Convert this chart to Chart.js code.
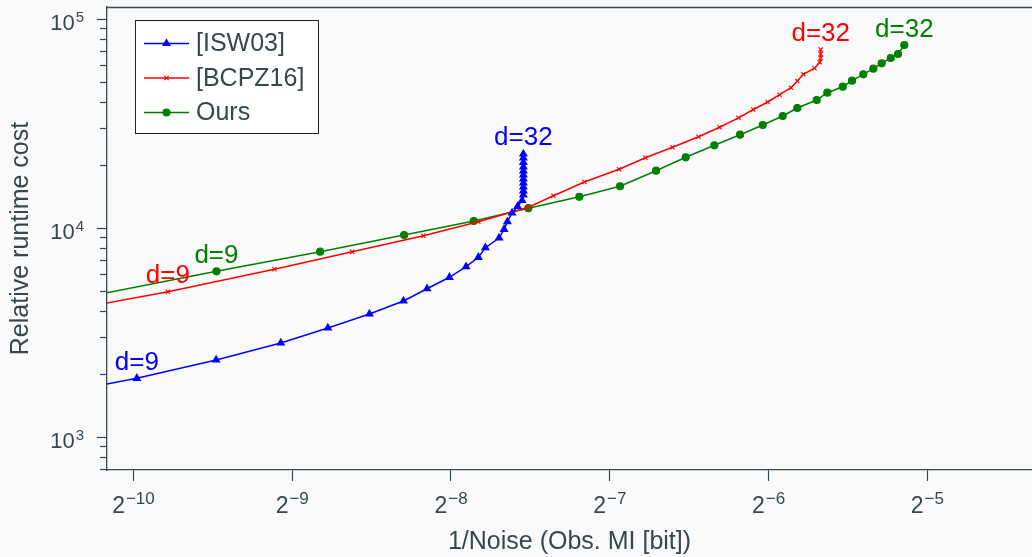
<!DOCTYPE html>
<html>
<head>
<meta charset="utf-8">
<script src="https://cdn.jsdelivr.net/npm/chart.js@4.4.0/dist/chart.umd.min.js"></script>
<style>
  html, body { margin: 0; padding: 0; background: #fafafa; overflow: hidden; }
  canvas { display: block; }
</style>
</head>
<body>
<canvas id="chart" width="1032" height="557"></canvas>
<script>
// values; first point of each series lies left of the visible range
const isw03X = [0.000711, 0.000991, 0.001401, 0.001858, 0.002282, 0.002736, 0.003174, 0.003519, 0.003879, 0.004172,
  0.004402, 0.004539, 0.004819, 0.004925, 0.004997, 0.005100, 0.005224, 0.005328, 0.005358, 0.005358,
  0.005358, 0.005358, 0.005358, 0.005358, 0.005358, 0.005358, 0.005358, 0.005358, 0.005358]
const isw03Y = [1633, 1916, 2344, 2827, 3334, 3890, 4489, 5140, 5830, 6551,
  7265, 8078, 8986, 9890, 10755, 11836, 12715, 13583, 14430, 15082,
  15761, 16471, 17213, 17989, 18800, 19647, 20645, 21697, 22675]

const bcpz16X = [0.000711, 0.001135, 0.001807, 0.002537, 0.003463, 0.004402, 0.005476, 0.006108, 0.006993, 0.008136,
  0.009127, 0.010276, 0.011511, 0.012617, 0.013707, 0.014617, 0.015571, 0.016394, 0.017236, 0.017717,
  0.018189, 0.019099, 0.019536, 0.019622, 0.019622, 0.019622]
const bcpz16Y = [3999, 4975, 6365, 7727, 9217, 10755, 12604, 14322, 16651, 19156,
  21748, 24413, 27404, 30453, 33784, 37018, 40215, 43580, 47064, 50688,
  54550, 58345, 62279, 65283, 68230, 71680]

const oursX = [0.000711, 0.001403, 0.002206, 0.003183, 0.004315, 0.005476, 0.006841, 0.008172, 0.009562, 0.010886,
  0.012334, 0.013798, 0.015235, 0.016623, 0.017717, 0.019283, 0.020196, 0.021603, 0.022497, 0.023633,
  0.024689, 0.025610, 0.026636, 0.027500, 0.028266]
const oursY = [4455, 6228, 7727, 9288, 10837, 12479, 14148, 15897, 18863, 21868,
  24953, 28042, 31207, 34458, 37638, 41113, 44548, 47587, 50851, 54550,
  58023, 61595, 65283, 68230, 75336]

const seriesNames = ["[ISW03]", "[BCPZ16]", "Ours"]
const seriesColors = ["#0000ff", "#ff0000", "#008000"]
const firstLabel = "d=9"
const lastLabel = "d=32"
const firstLabelIndex = 1

const xTickExps = [-10, -9, -8, -7, -6, -5]   // powers of 2
const yTickExps = [3, 4, 5]                   // powers of 10
const xMin = 0.00087, xMax = 0.04936
const yMin = 697.5, yMax = 114520

const ink = "#37474f"
const fam = "Liberation Sans"

const toPoints = (xs, ys) => xs.map((x, i) => ({x: x, y: ys[i]}))

const yMinorTicks = []
for (let e = 2; e <= 5; e++) {
  for (let m = 2; m <= 9; m++) {
    const v = m * Math.pow(10, e)
    if (v >= yMin && v <= yMax) yMinorTicks.push(v)
  }
}

function drawPow(ctx, base, exp, x, y, align, baseSize, expSize) {
  ctx.font = `${baseSize}px "${fam}"`
  const wb = ctx.measureText(base).width
  ctx.font = `${expSize}px "${fam}"`
  const we = ctx.measureText(exp).width
  const total = wb + 1 + we
  const x0 = align === "center" ? x - total / 2 : x - total
  ctx.textAlign = "left"
  ctx.textBaseline = "alphabetic"
  ctx.fillStyle = ink
  ctx.font = `${baseSize}px "${fam}"`
  ctx.fillText(base, x0, y)
  ctx.font = `${expSize}px "${fam}"`
  ctx.fillText(exp, x0 + wb + 1, y - 8.5)
}

const decorations = {
  id: "decorations",
  afterDraw(chart) {
    const ctx = chart.ctx
    const area = chart.chartArea
    ctx.save()

    // top frame line
    ctx.strokeStyle = ink
    ctx.lineWidth = 1.3
    ctx.beginPath()
    ctx.moveTo(area.left, area.top + 0.5)
    ctx.lineTo(area.right, area.top + 0.5)
    ctx.stroke()

    // tick labels with exponents
    const xs = chart.scales.x
    xs.ticks.forEach((t) => {
      const e = Math.round(Math.log2(t.value))
      drawPow(ctx, "2", "\u2212" + Math.abs(e), xs.getPixelForValue(t.value), xs.top + 42.5, "center", 23, 17)
    })
    const ys = chart.scales.y
    ys.ticks.forEach((t) => {
      const e = Math.round(Math.log10(t.value))
      drawPow(ctx, "10", String(e), 84, ys.getPixelForValue(t.value) + 11, "right", 22, 15)
    })

    // d=.. annotations at first and last point of each series
    ctx.font = `26px "${fam}"`
    ctx.textAlign = "center"
    ctx.textBaseline = "alphabetic"
    chart.data.datasets.forEach((ds, i) => {
      const pts = chart.getDatasetMeta(i).data
      ctx.fillStyle = ds.borderColor
      const p0 = pts[firstLabelIndex]
      const p1 = pts[pts.length - 1]
      ctx.fillText(firstLabel, p0.x, p0.y - 8.5)
      ctx.fillText(lastLabel, p1.x, p1.y - 8.5)
    })

    // legend box
    const lx = 135.5, ly = 20.5, lw = 183, lh = 113
    ctx.fillStyle = "#ffffff"
    ctx.fillRect(lx, ly, lw, lh)
    ctx.strokeStyle = "#222"
    ctx.lineWidth = 1
    ctx.strokeRect(lx, ly, lw, lh)
    chart.data.datasets.forEach((ds, i) => {
      const rowY = 43.5 + i * 34.5
      ctx.strokeStyle = ds.borderColor
      ctx.lineWidth = ds.borderWidth
      ctx.beginPath()
      ctx.moveTo(144, rowY)
      ctx.lineTo(189, rowY)
      ctx.stroke()
      ctx.fillStyle = ds.borderColor
      ctx.lineWidth = ds.pointBorderWidth
      Chart.helpers.drawPoint(ctx, {pointStyle: ds.pointStyle, rotation: 0, radius: ds.pointRadius, borderWidth: ds.pointBorderWidth}, 166.5, rowY)
      ctx.fillStyle = ink
      ctx.font = `25px "${fam}"`
      ctx.textAlign = "left"
      ctx.textBaseline = "middle"
      ctx.fillText(ds.label, 196, rowY + 1)
    })
    ctx.restore()
  }
}

const styles = [
  {pointStyle: "triangle", pointRadius: 4},
  {pointStyle: "crossRot", pointRadius: 3},
  {pointStyle: "circle", pointRadius: 3.5}
]
const allData = [toPoints(isw03X, isw03Y), toPoints(bcpz16X, bcpz16Y), toPoints(oursX, oursY)]

const datasets = allData.map((d, i) => ({
  label: seriesNames[i],
  data: d,
  borderColor: seriesColors[i],
  backgroundColor: seriesColors[i],
  pointBackgroundColor: seriesColors[i],
  pointBorderColor: seriesColors[i],
  borderWidth: 1.5,
  pointBorderWidth: 1.2,
  pointStyle: styles[i].pointStyle,
  pointRadius: styles[i].pointRadius,
  fill: false,
  tension: 0,
  xAxisID: "x",
  yAxisID: "y"
}))

new Chart(document.getElementById("chart"), {
  type: "line",
  data: {datasets: datasets},
  options: {
    animation: false,
    responsive: false,
    devicePixelRatio: 1,
    layout: {autoPadding: false, padding: {top: 7, right: 0, bottom: 0, left: 0}},
    plugins: {legend: {display: false}, tooltip: {enabled: false}},
    scales: {
      x: {
        type: "logarithmic",
        position: "bottom",
        min: xMin,
        max: xMax,
        bounds: "data",
        ticks: {display: false},
        grid: {drawOnChartArea: false, tickLength: 11, tickColor: ink, tickWidth: 1.2},
        border: {color: ink, width: 1.3},
        title: {display: true, text: "1/Noise (Obs. MI [bit])", color: ink,
          font: {family: fam, size: 25}, padding: {top: 0, bottom: 0}},
        afterBuildTicks: (s) => { s.ticks = xTickExps.map((e) => ({value: Math.pow(2, e)})) },
        afterFit: (s) => { s.height = 87 }
      },
      y: {
        type: "logarithmic",
        position: "left",
        weight: 1,
        min: yMin,
        max: yMax,
        bounds: "data",
        ticks: {display: false},
        grid: {drawOnChartArea: false, tickLength: 10, tickColor: ink, tickWidth: 1.2},
        border: {color: ink, width: 1.3},
        title: {display: true, text: "Relative runtime cost", color: ink,
          font: {family: fam, size: 25}, padding: {top: 6, bottom: 0}},
        afterBuildTicks: (s) => { s.ticks = yTickExps.map((e) => ({value: Math.pow(10, e)})) },
        afterFit: (s) => { s.width = 107 }
      },
      yMinor: {
        type: "logarithmic",
        position: "left",
        weight: 0,
        min: yMin,
        max: yMax,
        bounds: "data",
        ticks: {display: false},
        grid: {drawOnChartArea: false, tickLength: 7, tickColor: ink, tickWidth: 1.2},
        border: {display: false},
        afterBuildTicks: (s) => { s.ticks = yMinorTicks.map((v) => ({value: v})) },
        afterFit: (s) => { s.width = 0 }
      }
    }
  },
  plugins: [decorations]
})
</script>
</body>
</html>
